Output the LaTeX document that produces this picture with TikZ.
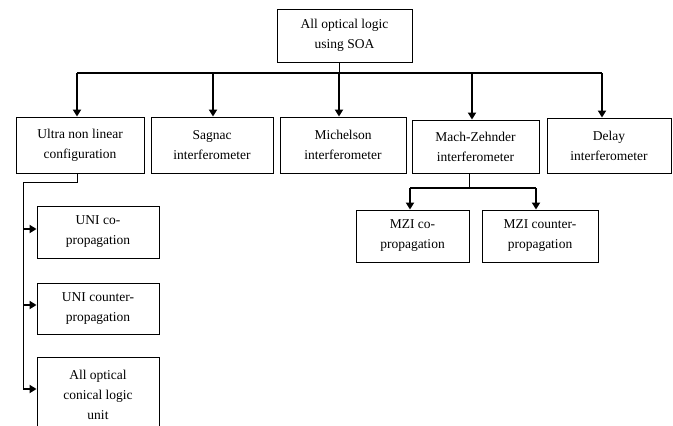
\documentclass[tikz,border=0pt]{standalone}
\usepackage{fontspec}
\setmainfont{Liberation Serif}
\usetikzlibrary{arrows.meta}
\tikzset{
  box/.style={draw=black, line width=0.9pt, align=center, inner sep=0pt,
    font=\fontsize{13.5}{20}\selectfont},
  arr/.style={line width=1.8pt, -{Triangle[length=7pt,width=8pt]}},
  bus/.style={line width=1.8pt},
  thin/.style={line width=1pt}
}
\begin{document}
\begin{tikzpicture}[x=1pt,y=-1pt]
\useasboundingbox (0,0) rectangle (673,426);
\fill[white] (0,0) rectangle (673,426);
% top
\node[box, minimum width=135pt, minimum height=53pt] (top) at (344.5,35.5) {All optical logic\\using SOA};
% row
\node[box, minimum width=128pt, minimum height=56pt] (b1) at (80,145) {Ultra non linear\\configuration};
\node[box, minimum width=122pt, minimum height=56pt] (b2) at (212,145) {Sagnac\\interferometer};
\node[box, minimum width=126pt, minimum height=56pt] (b3) at (343,145) {Michelson\\interferometer};
\node[box, minimum width=127pt, minimum height=53pt] (b4) at (475.5,146.5) {Mach-Zehnder\\interferometer};
\node[box, minimum width=124pt, minimum height=55pt] (b5) at (609,145.5) {Delay\\interferometer};
% UNI subs
\node[box, minimum width=122pt, minimum height=52pt] (s1) at (98,232) {UNI co-\\propagation};
\node[box, minimum width=122pt, minimum height=51pt] (s2) at (98,308.5) {UNI counter-\\propagation};
\node[box, minimum width=122pt, minimum height=75pt] (s3) at (98,394.5) {All optical\\conical logic\\unit};
% MZI subs
\node[box, minimum width=113pt, minimum height=52pt] (m1) at (412.5,236) {MZI co-\\propagation};
\node[box, minimum width=116pt, minimum height=52pt] (m2) at (540,236) {MZI counter-\\propagation};
% coordinates
\coordinate (busL) at (77,73);
\coordinate (busR) at (602,73);
\coordinate (busM) at (339,73);
% top stem and bus
\draw[thin] ([xshift=-5.5pt]top.south) -- (busM);
\draw[bus] (busL) -- (busR);
\draw[arr] (busL) -- ([xshift=-3pt]b1.north);
\draw[arr] (213,73) -- ([xshift=1pt]b2.north);
\draw[arr] (busM) -- ([xshift=-4pt]b3.north);
\draw[arr] (472,73) -- ([xshift=-3.5pt]b4.north);
\draw[arr] (busR) -- ([xshift=-7pt]b5.north);
% UNI branch
\coordinate (u1) at (77,182);
\coordinate (u2) at (23,182);
\coordinate (u3) at (23,389);
\draw[thin] ([xshift=-3pt]b1.south) -- (u1) -- (u2) -- (u3);
\draw[arr] (23,229) -- (s1.west |- 0,229);
\draw[arr] (23,305) -- (s2.west |- 0,305);
\draw[arr] (u3) -- (s3.west |- u3);
% MZI branch
\coordinate (z1) at (469,188);
\coordinate (zL) at (410,188);
\coordinate (zR) at (536,188);
\draw[thin] ([xshift=-6.5pt]b4.south) -- (z1);
\draw[bus] (zL) -- (zR);
\draw[arr] (zL) -- ([xshift=-2.5pt]m1.north);
\draw[arr] (zR) -- ([xshift=-4pt]m2.north);
\end{tikzpicture}
\end{document}
